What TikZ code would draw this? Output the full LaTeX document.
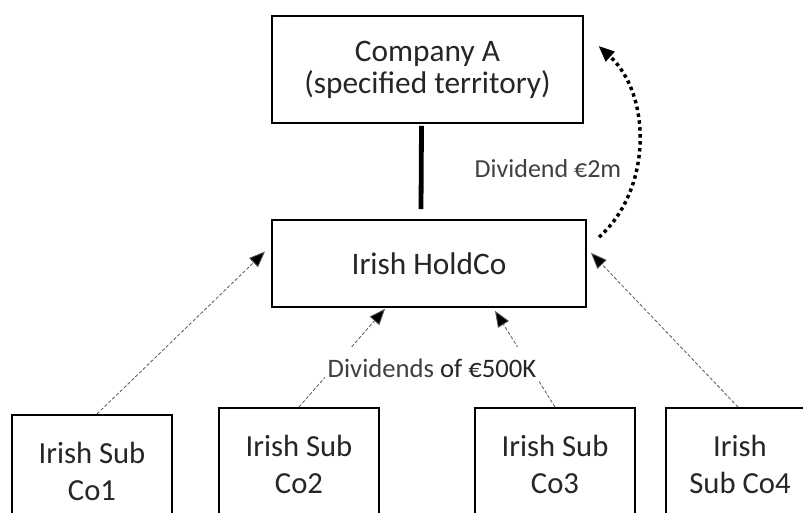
\documentclass[tikz,border=0pt]{standalone}
\usepackage{fontspec}
\setmainfont{Carlito}
\usetikzlibrary{arrows.meta,calc}

\begin{document}
\begin{tikzpicture}[x=0.75pt,y=-0.75pt,
    every node/.style={text=black!85},
    cobox/.style={draw=black,line width=1.5pt,fill=white,align=center,
      font=\fontsize{23.5}{24}\selectfont},
    subbox/.style={draw=black,line width=1.5pt,align=center,anchor=north,
      minimum width=120pt,minimum height=84pt,
      font=\fontsize{23}{27.75}\selectfont},
    divarrow/.style={draw=black!65,line width=0.6pt,dash pattern=on 2.5pt off 1.5pt,
      -{Triangle[length=12pt,width=9.5pt,fill=black]}},
    owns/.style={line width=3.6pt},
    paid/.style={line width=2.6pt,dash pattern=on 2.6pt off 2.6pt,
      -{Triangle[length=12pt,width=9.5pt]}}]
    \clip (0,0) rectangle (803,513);
    \fill[white] (0,0) rectangle (803,513);
    \node[cobox,minimum width=233pt,minimum height=80pt] (compa) at (427.5,69.5)
      {Company A\\(specified territory)};
    \node[cobox,minimum width=235.5pt,minimum height=65pt] (hold) at (429,263.5)
      {Irish HoldCo};
    \node[subbox] (sub1) at (92,414) {Irish Sub\\Co1};
    \node[subbox] (sub2) at (299,407) {Irish Sub\\Co2};
    \node[subbox] (sub3) at (555,407) {Irish Sub\\Co3};
    \node[subbox,minimum width=111pt] (sub4) at (740,407) {Irish\\Sub Co4};
    % shareholding
    \draw[owns] ([xshift=-4.5pt,yshift=-1.5pt]compa.south)
      -- ([xshift=-6pt,yshift=7.5pt]hold.north);
    % dividends up to the holdco
    \draw[divarrow] ([xshift=3.75pt]sub1.north) -- ([xshift=-4.5pt,yshift=9pt]hold.west);
    \draw[divarrow] (sub2.north) -- ([xshift=-33pt,yshift=-0.75pt]hold.south);
    \draw[divarrow] (sub3.north) -- ([xshift=49.5pt,yshift=-2.25pt]hold.south);
    \draw[divarrow] ([xshift=-1.5pt]sub4.north) -- ([xshift=3pt,yshift=8pt]hold.east);
    \node[fill=white,inner xsep=2pt,inner ysep=9pt,font=\fontsize{20}{24}\selectfont]
      (divsub) at (432,368) {\textcolor{black!75}{Dividends} of €500K};
    % dividend up to company A
    \draw[paid] ([xshift=9pt,yshift=-13.5pt]hold.north east)
      .. controls (652,190) and (652,95) .. ([xshift=11pt,yshift=-23pt]compa.north east);
    \node[anchor=base,font=\fontsize{19.5}{24}\selectfont,text=black!75] (divtop)
      at (548,178) {Dividend €2m};
\end{tikzpicture}
\end{document}
